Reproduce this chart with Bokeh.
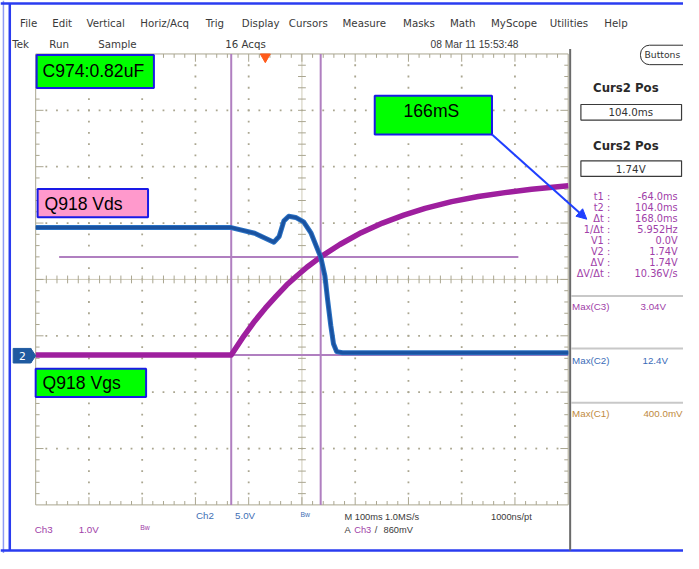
import numpy as np
from bokeh.plotting import figure
from bokeh.models import Range1d, BoxAnnotation, Arrow, NormalHead
from bokeh.core.properties import value
from bokeh.embed import file_html
from bokeh.resources import INLINE

# ---------------- values ----------------
vds_time_ms = [-431, -64, -20, 16, 26, 35, 44, 57, 72, 86, 97, 104, 112, 117, 123, 128, 134, 145, 569]
vds_volts = [11.3, 11.3, 10.8, 10.0, 10.5, 11.9, 12.3, 12.2, 11.8, 10.8, 9.5, 8.7, 7.0, 4.9, 2.6, 1.0, 0.3, 0.2, 0.2]
vgs_time_ms = [-431, -64, -40, -20, 0, 20, 40, 60, 80, 104, 140, 180, 220, 260, 300, 350, 400, 450, 500, 569]
vgs_volts = [0.0, 0.0, 0.34, 0.60, 0.83, 1.04, 1.24, 1.41, 1.57, 1.74, 1.96, 2.17, 2.34, 2.48, 2.60, 2.72, 2.81, 2.88, 2.94, 3.00]
cursor_times_ms = [-64.0, 104.0]
cursor_levels_v = [0.0, 1.74]

menu_items = ["File", "Edit", "Vertical", "Horiz/Acq", "Trig", "Display", "Cursors",
              "Measure", "Masks", "Math", "MyScope", "Utilities", "Help"]
status_items = ["Tek", "Run", "Sample", "16 Acqs", "08 Mar 11 15:53:48"]
readout_labels = ["t1 :", "t2 :", "Δt :", "1/Δt :", "V1 :", "V2 :", "ΔV :", "ΔV/Δt :"]
readout_values = ["-64.0ms", "104.0ms", "168.0ms", "5.952Hz", "0.0V", "1.74V", "1.74V", "10.36V/s"]
max_labels = ["Max(C3)", "Max(C2)", "Max(C1)"]
max_values = ["3.04V", "12.4V", "400.0mV"]
curs_values = ["104.0ms", "1.74V"]

# scope settings
TIME_PER_DIV = 100.0
H_CENTER_MS = 68.8
CH2_VDIV = 5.0
CH3_VDIV = 1.0
GROUND_DIV = -1.34

# ---------------- layout (reference pixel geometry) ----------------
W, H = 683, 553
REF_W, REF_H = 699, 569
S = W / REF_W
PX0, PX_PER_MS = 271.0, 0.545
PY0, PX_PER_DIV = 287.0, 58.0


def X(px):
    return (px - PX0) / PX_PER_MS


def Y(py):
    return (PY0 - py) / PX_PER_DIV


def fs(size):
    return f"{size * S:.2f}px"


p = figure(width=W, height=H, x_range=Range1d(X(0), X(REF_W)), y_range=Range1d(Y(REF_H), Y(0)),
           output_backend="svg", toolbar_location=None, x_axis_location=None, y_axis_location=None,
           min_border=0, outline_line_color=None, background_fill_color="white",
           border_fill_color="white")
p.xgrid.visible = False
p.ygrid.visible = False

GRID_C = "#aaa690"
GL, GR = H_CENTER_MS - 5 * TIME_PER_DIV, H_CENTER_MS + 5 * TIME_PER_DIV

# dotted graticule
dx, dy = [], []
for i in range(1, 10):
    if i == 5:
        continue
    for j in range(1, 40):
        dx.append(GL + i * TIME_PER_DIV)
        dy.append(-4 + j * 0.2)
for k in range(1, 8):
    if k == 4:
        continue
    for j in range(1, 50):
        dx.append(GL + j * TIME_PER_DIV / 5)
        dy.append(-4 + k)
p.scatter(dx, dy, marker="square", size=1.8, fill_color=GRID_C, line_color=None)

# center lines
p.segment(x0=[GL, H_CENTER_MS], y0=[0, -4], x1=[GR, H_CENTER_MS], y1=[0, 4],
          line_color="#cfcbb8", line_width=1)
# ticks
tx0, ty0, tx1, ty1 = [], [], [], []
hx = 4 / PX_PER_MS
hy = 4 / PX_PER_DIV
for j in range(1, 50):
    x = GL + j * TIME_PER_DIV / 5
    big = (j % 5 == 0)
    tx0 += [x, x, x]; ty0 += [-hy, 4, -4]; tx1 += [x, x, x]
    ty1 += [hy, 4 - (2 if big else 1) * hy, -4 + (2 if big else 1) * hy]
for j in range(1, 40):
    y = -4 + j * 0.2
    big = (j % 5 == 0)
    tx0 += [H_CENTER_MS - hx, GL, GR]; ty0 += [y, y, y]
    tx1 += [H_CENTER_MS + hx, GL + (2 if big else 1) * hx, GR - (2 if big else 1) * hx]; ty1 += [y, y, y]
p.segment(x0=tx0, y0=ty0, x1=tx1, y1=ty1, line_color=GRID_C, line_width=1)
p.quad(left=[GL], right=[GR], top=[4], bottom=[-4], fill_color=None, line_color=GRID_C, line_width=1)

# cursors
CUR_C = "#b07fc0"
p.segment(x0=cursor_times_ms, y0=[-4, -4], x1=cursor_times_ms, y1=[4, 4], line_color=CUR_C, line_width=2)
cur_y = [GROUND_DIV + v / CH3_VDIV for v in cursor_levels_v]
p.segment(x0=[GL, X(60)], y0=cur_y, x1=[GR, X(530)], y1=cur_y, line_color=CUR_C, line_width=2)

# traces
vgs_y = [GROUND_DIV + v / CH3_VDIV for v in vgs_volts]
vds_y = [GROUND_DIV + v / CH2_VDIV for v in vds_volts]
p.line(vgs_time_ms, vgs_y, line_color="#9e1f9e", line_width=5.5, line_join="round")
p.line(vds_time_ms, vds_y, line_color="#2a72c4", line_width=5, line_join="round")
p.line(vds_time_ms, vds_y, line_color="#1a52a0", line_width=3, line_join="round")

# trigger marker
p.scatter([0], [Y(58)], marker="inverted_triangle", size=10, fill_color="#ff5a1a", line_color="#ff5a1a")


def txt(px, py, s, size=11, color="#333333", align="left", font="DejaVu Sans", style="normal"):
    p.text(x=[X(px)], y=[Y(py)], text=[s], text_font=value(font), text_font_size=fs(size),
           text_color=color, text_align=align, text_baseline="middle", text_font_style=style)


def box(l, r, t, b, fill, line="#1a1ae6", lw=2):
    p.quad(left=[X(l)], right=[X(r)], top=[Y(t)], bottom=[Y(b)], fill_color=fill, line_color=line, line_width=lw)


# outer frame
FRAME_C = "#2a3cf0"
p.segment(x0=[X(3)], y0=[Y(0)], x1=[X(3)], y1=[Y(569)], line_color="#8f9cf5", line_width=1.5)
p.segment(x0=[X(9.5), X(0), X(0)], y0=[Y(3), Y(3), Y(566)], x1=[X(9.5), X(699), X(699)],
          y1=[Y(566), Y(3), Y(566)], line_color=FRAME_C, line_width=2.5)

# menu bar
menu_x = [20, 53, 88, 143, 210, 247, 295, 350, 412, 460, 502, 562, 618]
for s, x in zip(menu_items, menu_x):
    txt(x, 23, s, size=10.5, color="#3a3a3a")
status_x = [12, 50, 100, 230, 440]
for s, x in zip(status_items, status_x):
    txt(x, 45, s, size=10.5, color="#3a3a3a", font="Liberation Sans" if s[0] == "0" else "DejaVu Sans")

p.add_layout(BoxAnnotation(left=X(655), right=X(712), top=Y(46), bottom=Y(66), fill_color="white",
                           fill_alpha=1, line_color="#303030", line_width=1, line_alpha=1,
                           border_radius=9, level="underlay"))
txt(659, 56, "Buttons", size=9.5, color="#333333")

# label boxes
box(37, 157, 56, 90, "#00ff00")
txt(43, 73, "C974:0.82uF", size=18, color="black", font="Liberation Sans")
box(38, 151, 194, 223, "#ff99cc")
txt(45, 209, "Q918 Vds", size=18, color="black", font="Liberation Sans")
box(36, 149, 379, 408, "#00ff00")
txt(43, 394, "Q918 Vgs", size=18, color="black", font="Liberation Sans")
box(383, 503, 98, 138, "#00ff00")
txt(441, 114, "166mS", size=18, color="black", font="Liberation Sans", align="center")
p.add_layout(Arrow(end=NormalHead(size=10, fill_color="#1f3fff", line_color="#1f3fff"),
                   x_start=X(503), y_start=Y(138), x_end=X(600), y_end=Y(225),
                   line_color="#1f3fff", line_width=2))

# channel 2 ground marker
box(13, 31, 358, 373, "#1f5aa0", line="#1f5aa0", lw=1)
p.patch([X(31), X(36), X(31)], [Y(358), Y(365.5), Y(373)], fill_color="#1f5aa0", line_color="#1f5aa0")
txt(19, 366, "2", size=11, color="white")

# right panel
p.segment(x0=[X(583)], y0=[Y(50)], x1=[X(583)], y1=[Y(566)], line_color="#6a6a6a", line_width=2)
txt(640, 90, "Curs2 Pos", size=12, color="#2a2a2a", align="center", style="bold")
txt(640, 150, "Curs2 Pos", size=12, color="#2a2a2a", align="center", style="bold")
box(594, 697, 107, 123, "white", line="#3a3a3a", lw=1.2)
box(594, 697, 165, 181, "white", line="#3a3a3a", lw=1.2)
txt(645, 115, curs_values[0], size=10.5, color="#333333", align="center")
txt(645, 173, curs_values[1], size=10.5, color="#333333", align="center")
PUR = "#a040a8"
for i, (lab, val) in enumerate(zip(readout_labels, readout_values)):
    y = 202 + i * 11.3
    txt(624, y, lab, size=10, color=PUR, align="right")
    txt(693, y, val, size=10, color=PUR, align="right")
p.segment(x0=[X(584)] * 3, y0=[Y(304), Y(358), Y(414)], x1=[X(699)] * 3, y1=[Y(304), Y(358), Y(414)],
          line_color="#c8c8c8", line_width=2)
max_colors = [PUR, "#3a6cb8", "#c08a40"]
for lab, val, c, y, vx in zip(max_labels, max_values, max_colors, [315, 370, 425], [655, 657, 658]):
    txt(585, y, lab, size=10, color=c, font="Liberation Sans")
    txt(vx, y, val, size=10, color=c, font="Liberation Sans")

# bottom readouts
BLU = "#3f6fb5"
txt(200, 530, "Ch2", size=10, color=BLU, font="Liberation Sans")
txt(240, 530, "5.0V", size=10, color=BLU, font="Liberation Sans")
txt(307, 529, "Bw", size=7, color=BLU, font="Liberation Sans")
txt(35, 544, "Ch3", size=10, color=PUR, font="Liberation Sans")
txt(80, 544, "1.0V", size=10, color=PUR, font="Liberation Sans")
txt(143, 542, "Bw", size=7, color=PUR, font="Liberation Sans")
txt(352, 531, "M 100ms 1.0MS/s", size=9.5, color="#3a3a3a", font="Liberation Sans")
txt(502, 531, "1000ns/pt", size=9.5, color="#3a3a3a", font="Liberation Sans")
txt(352, 545, "A", size=9.5, color="#3a3a3a", font="Liberation Sans")
txt(362, 545, "Ch3", size=9.5, color=PUR, font="Liberation Sans")
txt(383, 545, "/", size=9.5, color="#3a3a3a", font="Liberation Sans")
txt(392, 545, "860mV", size=9.5, color="#3a3a3a", font="Liberation Sans")

open("out.html", "w").write(file_html(p, INLINE))
